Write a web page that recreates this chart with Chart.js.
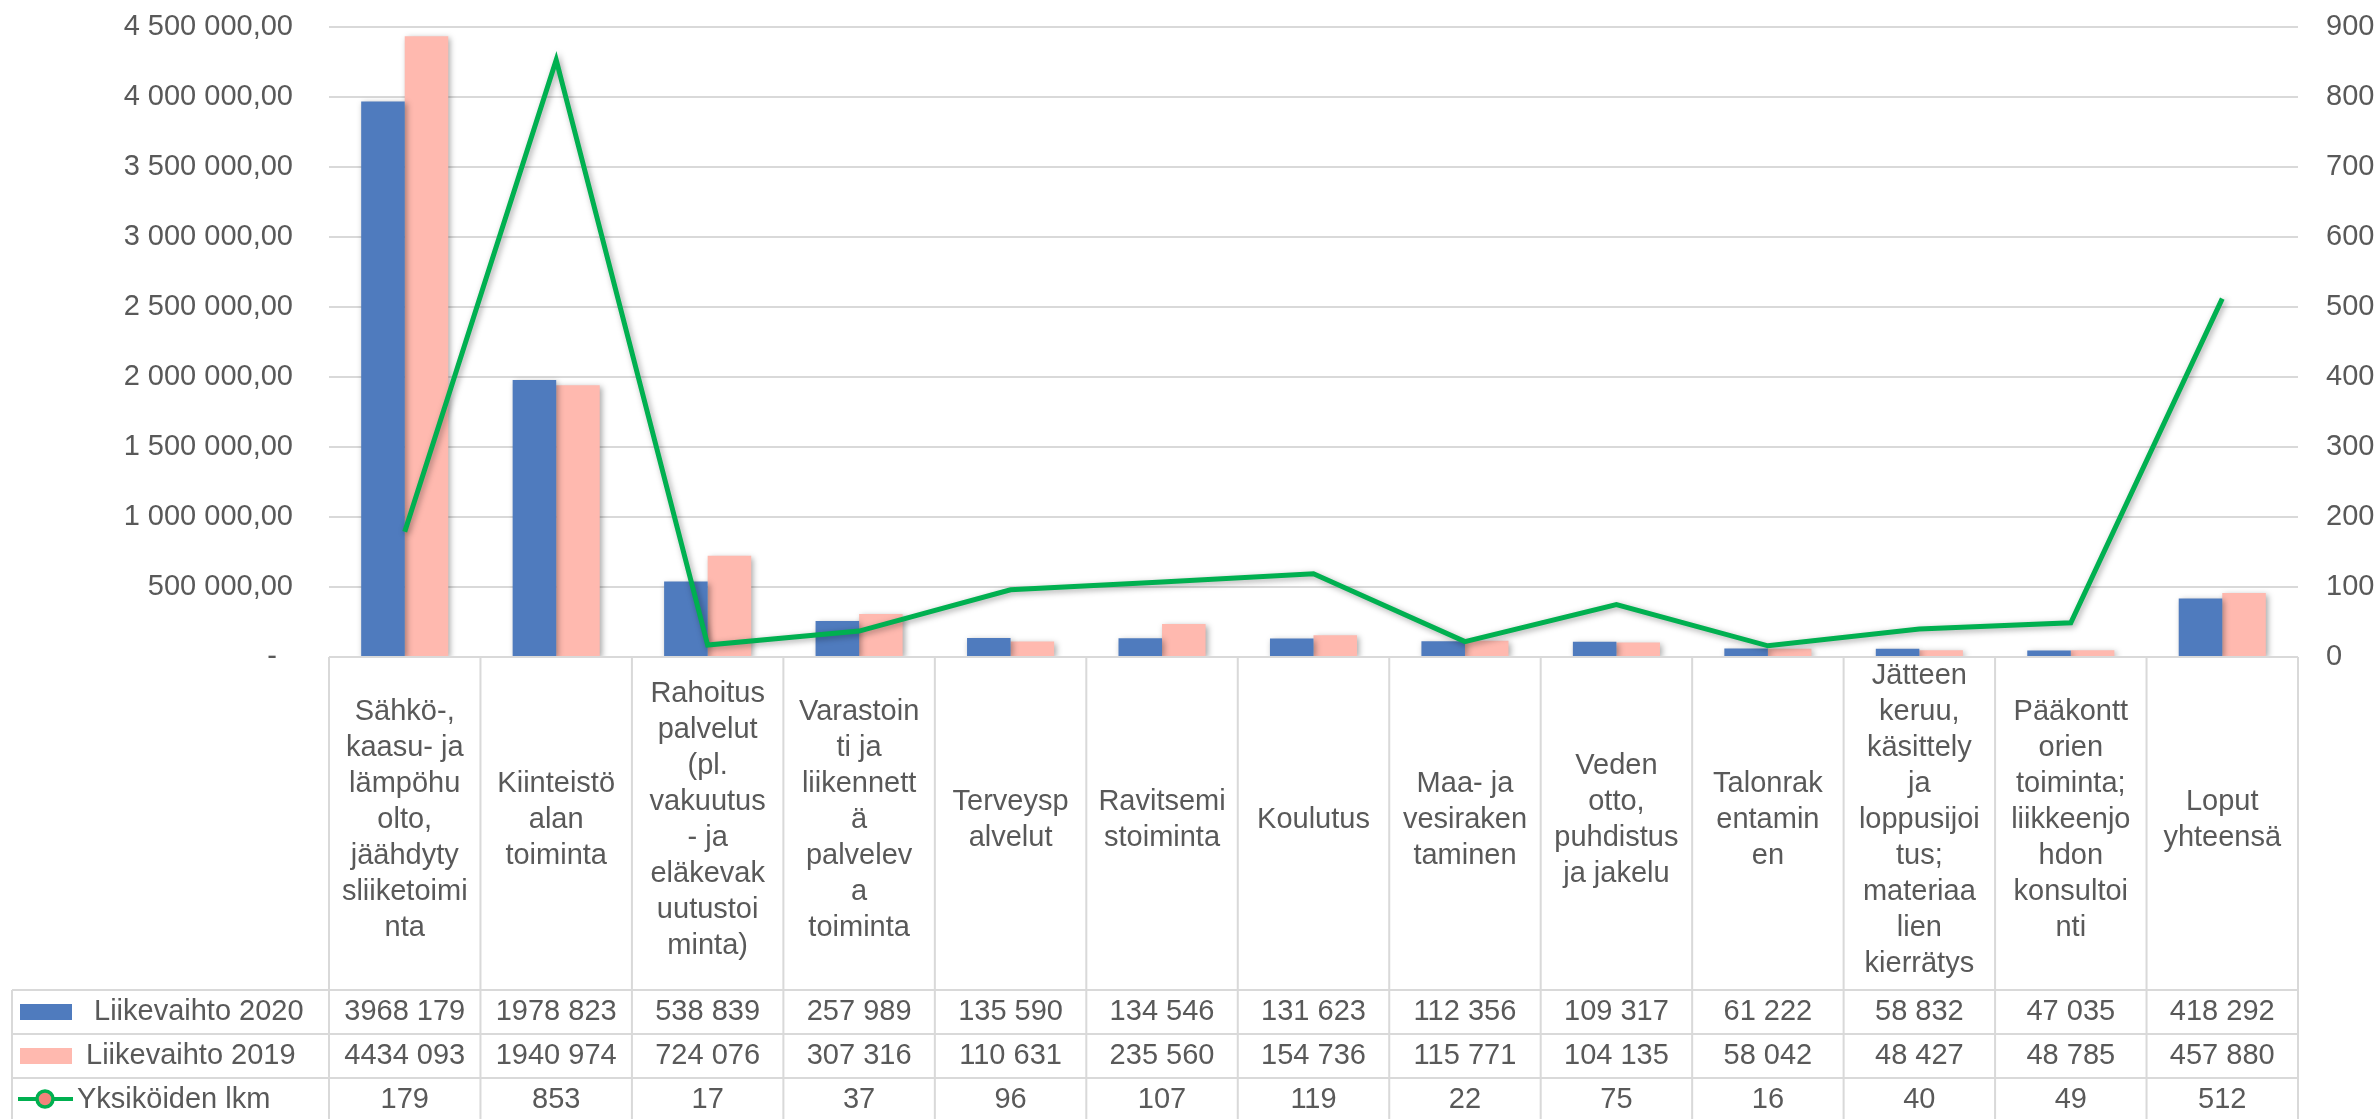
<!DOCTYPE html>
<html>
<head>
<meta charset="utf-8">
<script src="https://cdn.jsdelivr.net/npm/chart.js@4.4.0/dist/chart.umd.min.js"></script>
<style>
  html, body { margin: 0; padding: 0; background: #fff; }
  #wrap { width: 2379px; height: 1119px; }
</style>
</head>
<body>
<div id="wrap"><canvas id="myChart" width="2379" height="1119"></canvas></div>
<script>
// category names, wrapped the way the table header shows them
var categories = [
    ['Sähkö-,', 'kaasu- ja', 'lämpöhu', 'olto,', 'jäähdyty', 'sliiketoimi', 'nta'],
    ['Kiinteistö', 'alan', 'toiminta'],
    ['Rahoitus', 'palvelut', '(pl.', 'vakuutus', '- ja', 'eläkevak', 'uutustoi', 'minta)'],
    ['Varastoin', 'ti ja', 'liikennett', 'ä', 'palvelev', 'a', 'toiminta'],
    ['Terveysp', 'alvelut'],
    ['Ravitsemi', 'stoiminta'],
    ['Koulutus'],
    ['Maa- ja', 'vesiraken', 'taminen'],
    ['Veden', 'otto,', 'puhdistus', 'ja jakelu'],
    ['Talonrak', 'entamin', 'en'],
    ['Jätteen', 'keruu,', 'käsittely', 'ja', 'loppusijoi', 'tus;', 'materiaa', 'lien', 'kierrätys'],
    ['Pääkontt', 'orien', 'toiminta;', 'liikkeenjo', 'hdon', 'konsultoi', 'nti'],
    ['Loput', 'yhteensä']
];
var liikevaihto2020 = [3968179, 1978823, 538839, 257989, 135590, 134546, 131623, 112356, 109317, 61222, 58832, 47035, 418292];
var liikevaihto2019 = [4434093, 1940974, 724076, 307316, 110631, 235560, 154736, 115771, 104135, 58042, 48427, 48785, 457880];
var yksikot = [179, 853, 17, 37, 96, 107, 119, 22, 75, 16, 40, 49, 512];
var seriesNames = ['Liikevaihto 2020', 'Liikevaihto 2019', 'Yksiköiden lkm'];
var leftTicks = [0, 500000, 1000000, 1500000, 2000000, 2500000, 3000000, 3500000, 4000000, 4500000];
var rightTicks = [0, 100, 200, 300, 400, 500, 600, 700, 800, 900];

var FONT = "'Liberation Sans', Arial, sans-serif";
var TEXT = '#595959';
var GRID = '#d9d9d9';
var BLUE = '#4f7bbe';
var PINK = '#ffb9af';
var GREEN = '#00b050';

function groupThousands(n) {
    var s = String(Math.round(n));
    return s.replace(/\B(?=(\d{3})+(?!\d))/g, ' ');
}
function leftLabel(v) {
    if (v === 0) return '-\u00a0\u00a0';
    return groupThousands(v) + ',00';
}
// table cells: only the last group is split off ("3968 179")
function cellLabel(v) {
    if (v < 1000) return String(v);
    var rest = String(v % 1000);
    while (rest.length < 3) rest = '0' + rest;
    return Math.floor(v / 1000) + ' ' + rest;
}
// fixed axis widths, and no extra top/bottom room for the tick labels
function fitAxis(width) {
    return function (scale) {
        scale.width = width;
        scale.paddingTop = 0;
        scale.paddingBottom = 0;
    };
}

var shadowPlugin = {
    id: 'shadow',
    beforeDatasetDraw: function (chart) {
        var c = chart.ctx;
        c.save();
        c.shadowColor = 'rgba(0,0,0,0.35)';
        c.shadowBlur = 6;
        c.shadowOffsetX = 2;
        c.shadowOffsetY = 2;
    },
    afterDatasetDraw: function (chart) {
        chart.ctx.restore();
    }
};

var tablePlugin = {
    id: 'dataTable',
    afterDraw: function (chart) {
        var c = chart.ctx;
        var area = chart.chartArea;
        var n = categories.length;
        var colW = (area.right - area.left) / n;
        var tableLeft = 12;
        var headerBottom = 990;
        var rowLines = [990, 1034, 1078];
        var rowCenters = [1012, 1056, 1100];
        var bottom = 1125;

        c.save();
        c.strokeStyle = GRID;
        c.lineWidth = 2;
        c.beginPath();
        // top of header
        c.moveTo(area.left, area.bottom);
        c.lineTo(area.right, area.bottom);
        for (var r = 0; r < rowLines.length; r++) {
            c.moveTo(tableLeft, rowLines[r]);
            c.lineTo(area.right, rowLines[r]);
        }
        for (var i = 0; i <= n; i++) {
            var x = area.left + i * colW;
            c.moveTo(x, area.bottom);
            c.lineTo(x, bottom);
        }
        c.moveTo(tableLeft, headerBottom);
        c.lineTo(tableLeft, bottom);
        c.stroke();

        // header labels, vertically centred in the header row
        c.fillStyle = TEXT;
        c.font = '29px ' + FONT;
        c.textAlign = 'center';
        c.textBaseline = 'middle';
        var lineH = 36;
        var headMid = (area.bottom + headerBottom) / 2 - 4;
        for (var k = 0; k < n; k++) {
            var cx = chart.scales.x.getPixelForValue(k);
            var lines = categories[k];
            var y0 = headMid - (lines.length - 1) * lineH / 2;
            for (var l = 0; l < lines.length; l++) {
                c.fillText(lines[l], cx, y0 + l * lineH);
            }
            c.fillText(cellLabel(liikevaihto2020[k]), cx, rowCenters[0]);
            c.fillText(cellLabel(liikevaihto2019[k]), cx, rowCenters[1]);
            c.fillText(cellLabel(yksikot[k]), cx, rowCenters[2]);
        }

        // legend keys
        c.fillStyle = BLUE;
        c.fillRect(20, 1004, 52, 16);
        c.fillStyle = PINK;
        c.fillRect(20, 1048, 52, 16);
        c.strokeStyle = GREEN;
        c.lineWidth = 4;
        c.beginPath();
        c.moveTo(18, 1099);
        c.lineTo(73, 1099);
        c.stroke();
        c.beginPath();
        c.arc(45, 1099, 8, 0, Math.PI * 2);
        c.fillStyle = '#f2837b';
        c.fill();
        c.lineWidth = 3.5;
        c.stroke();

        c.fillStyle = TEXT;
        c.textAlign = 'left';
        c.fillText(seriesNames[0], 94, rowCenters[0]);
        c.fillText(seriesNames[1], 86, rowCenters[1]);
        c.fillText(seriesNames[2], 77, rowCenters[2]);
        c.restore();
    }
};

var ctx = document.getElementById('myChart').getContext('2d');
var myChart = new Chart(ctx, {
    type: 'bar',
    data: {
        labels: categories,
        datasets: [{
            label: seriesNames[0],
            data: liikevaihto2020,
            backgroundColor: BLUE,
            yAxisID: 'y',
            order: 2
        }, {
            label: seriesNames[1],
            data: liikevaihto2019,
            backgroundColor: PINK,
            yAxisID: 'y',
            order: 2
        }, {
            type: 'line',
            label: seriesNames[2],
            data: yksikot,
            borderColor: GREEN,
            borderWidth: 5,
            pointRadius: 0,
            tension: 0,
            fill: false,
            yAxisID: 'y1',
            order: 1
        }]
    },
    options: {
        responsive: false,
        animation: false,
        events: [],
        layout: {
            padding: { top: 27, bottom: 462, left: 0, right: 0 }
        },
        datasets: {
            bar: {
                barPercentage: 1,
                categoryPercentage: 0.575
            }
        },
        plugins: {
            legend: { display: false },
            tooltip: { enabled: false }
        },
        scales: {
            x: {
                display: false,
                offset: true
            },
            y: {
                position: 'left',
                min: 0,
                max: 4500000,
                afterBuildTicks: function (scale) {
                    scale.ticks = leftTicks.map(function (v) { return { value: v }; });
                },
                afterFit: fitAxis(329),
                border: { display: false },
                grid: { color: GRID, lineWidth: 2, drawTicks: false },
                ticks: {
                    padding: 36,
                    color: TEXT,
                    font: { family: FONT, size: 29 },
                    callback: function (v) { return leftLabel(v); }
                }
            },
            y1: {
                position: 'right',
                min: 0,
                max: 900,
                afterBuildTicks: function (scale) {
                    scale.ticks = rightTicks.map(function (v) { return { value: v }; });
                },
                afterFit: fitAxis(81),
                border: { display: false },
                grid: { display: false, drawTicks: false },
                ticks: {
                    padding: 28,
                    color: TEXT,
                    font: { family: FONT, size: 29 }
                }
            }
        }
    },
    plugins: [shadowPlugin, tablePlugin]
});
</script>
</body>
</html>
